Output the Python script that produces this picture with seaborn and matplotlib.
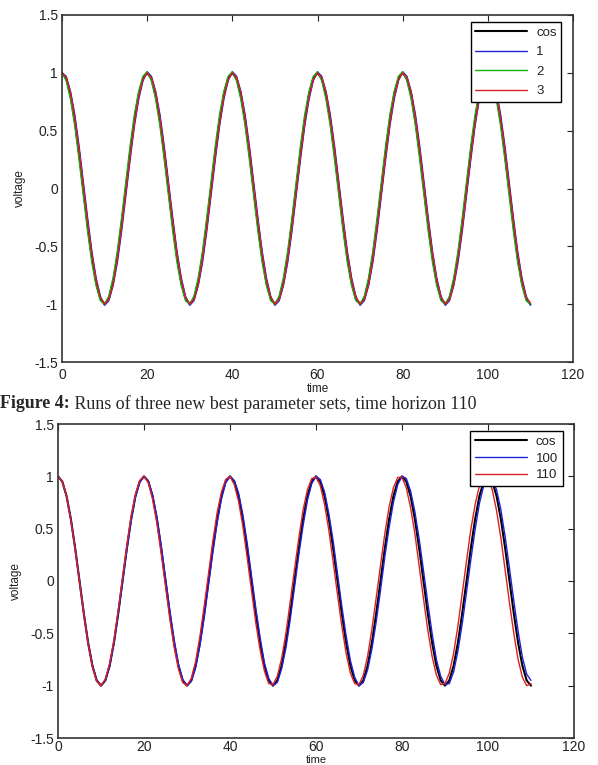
import numpy as np
import pandas as pd
import seaborn as sns
import matplotlib
matplotlib.use("Agg")
import matplotlib.pyplot as plt

# ---------------- data ----------------
time = list(range(0, 111))

# top panel: cos reference and three best parameter sets
top_cos = [
    1.00, 0.95, 0.81, 0.59, 0.31, 0.00, -0.31, -0.59, -0.81, -0.95, -1.00, -0.95, -0.81, -0.59, -0.31, 0.00, 0.31, 0.59, 0.81, 0.95,
    1.00, 0.95, 0.81, 0.59, 0.31, 0.00, -0.31, -0.59, -0.81, -0.95, -1.00, -0.95, -0.81, -0.59, -0.31, 0.00, 0.31, 0.59, 0.81, 0.95,
    1.00, 0.95, 0.81, 0.59, 0.31, 0.00, -0.31, -0.59, -0.81, -0.95, -1.00, -0.95, -0.81, -0.59, -0.31, 0.00, 0.31, 0.59, 0.81, 0.95,
    1.00, 0.95, 0.81, 0.59, 0.31, 0.00, -0.31, -0.59, -0.81, -0.95, -1.00, -0.95, -0.81, -0.59, -0.31, 0.00, 0.31, 0.59, 0.81, 0.95,
    1.00, 0.95, 0.81, 0.59, 0.31, 0.00, -0.31, -0.59, -0.81, -0.95, -1.00, -0.95, -0.81, -0.59, -0.31, 0.00, 0.31, 0.59, 0.81, 0.95,
    1.00, 0.95, 0.81, 0.59, 0.31, 0.00, -0.31, -0.59, -0.81, -0.95, -1.00,
]
top_run1 = [
    1.00, 0.97, 0.84, 0.64, 0.37, 0.06, -0.25, -0.54, -0.77, -0.93, -1.01, -0.97, -0.84, -0.64, -0.37, -0.06, 0.25, 0.54, 0.77, 0.93,
    1.01, 0.97, 0.84, 0.64, 0.37, 0.06, -0.25, -0.54, -0.77, -0.93, -1.01, -0.97, -0.84, -0.64, -0.37, -0.06, 0.25, 0.54, 0.77, 0.93,
    1.01, 0.97, 0.84, 0.64, 0.37, 0.06, -0.25, -0.54, -0.77, -0.93, -1.01, -0.97, -0.84, -0.64, -0.37, -0.06, 0.25, 0.54, 0.77, 0.93,
    1.01, 0.97, 0.84, 0.64, 0.37, 0.06, -0.25, -0.54, -0.77, -0.93, -1.01, -0.97, -0.84, -0.64, -0.37, -0.06, 0.25, 0.54, 0.77, 0.93,
    1.01, 0.97, 0.84, 0.64, 0.37, 0.06, -0.25, -0.54, -0.77, -0.93, -1.01, -0.97, -0.84, -0.64, -0.37, -0.06, 0.25, 0.54, 0.77, 0.93,
    1.01, 0.97, 0.84, 0.64, 0.37, 0.06, -0.25, -0.54, -0.77, -0.93, -1.01,
]
top_run2 = [
    1.00, 0.93, 0.77, 0.54, 0.25, -0.06, -0.37, -0.64, -0.84, -0.97, -1.00, -0.93, -0.77, -0.54, -0.25, 0.06, 0.37, 0.64, 0.84, 0.97,
    1.01, 0.93, 0.77, 0.54, 0.25, -0.06, -0.37, -0.64, -0.84, -0.97, -1.00, -0.93, -0.77, -0.54, -0.25, 0.06, 0.37, 0.64, 0.84, 0.97,
    1.01, 0.93, 0.77, 0.54, 0.25, -0.06, -0.37, -0.64, -0.84, -0.97, -1.00, -0.93, -0.77, -0.54, -0.25, 0.06, 0.37, 0.64, 0.84, 0.97,
    1.01, 0.93, 0.77, 0.54, 0.25, -0.06, -0.37, -0.64, -0.84, -0.97, -1.00, -0.93, -0.77, -0.54, -0.25, 0.06, 0.37, 0.64, 0.84, 0.97,
    1.01, 0.93, 0.77, 0.54, 0.25, -0.06, -0.37, -0.64, -0.84, -0.97, -1.00, -0.93, -0.77, -0.54, -0.25, 0.06, 0.37, 0.64, 0.84, 0.97,
    1.01, 0.93, 0.77, 0.54, 0.25, -0.06, -0.37, -0.64, -0.84, -0.97, -1.00,
]
top_run3 = [
    1.00, 0.96, 0.83, 0.61, 0.34, 0.03, -0.28, -0.56, -0.79, -0.94, -1.00, -0.96, -0.83, -0.61, -0.34, -0.03, 0.28, 0.56, 0.79, 0.94,
    1.00, 0.96, 0.83, 0.61, 0.34, 0.03, -0.28, -0.56, -0.79, -0.94, -1.00, -0.96, -0.83, -0.61, -0.34, -0.03, 0.28, 0.56, 0.79, 0.94,
    1.00, 0.96, 0.83, 0.61, 0.34, 0.03, -0.28, -0.56, -0.79, -0.94, -1.00, -0.96, -0.83, -0.61, -0.34, -0.03, 0.28, 0.56, 0.79, 0.94,
    1.00, 0.96, 0.83, 0.61, 0.34, 0.03, -0.28, -0.56, -0.79, -0.94, -1.00, -0.96, -0.83, -0.61, -0.34, -0.03, 0.28, 0.56, 0.79, 0.94,
    1.00, 0.96, 0.83, 0.61, 0.34, 0.03, -0.28, -0.56, -0.79, -0.94, -1.00, -0.96, -0.83, -0.61, -0.34, -0.03, 0.28, 0.56, 0.79, 0.94,
    1.00, 0.96, 0.83, 0.61, 0.34, 0.03, -0.28, -0.56, -0.79, -0.94, -0.99,
]
top_labels = ["cos", "1", "2", "3"]

# bottom panel: cos reference and runs with horizons 100 and 110
bottom_cos = top_cos
bottom_run100 = [
    1.00, 0.95, 0.81, 0.59, 0.31, 0.01, -0.30, -0.58, -0.80, -0.95, -1.00, -0.95, -0.82, -0.60, -0.32, -0.02, 0.29, 0.57, 0.80, 0.94,
    1.00, 0.96, 0.82, 0.61, 0.34, 0.03, -0.28, -0.56, -0.79, -0.94, -1.00, -0.96, -0.83, -0.62, -0.35, -0.04, 0.27, 0.55, 0.78, 0.94,
    1.00, 0.96, 0.84, 0.63, 0.36, 0.05, -0.26, -0.54, -0.78, -0.93, -1.00, -0.97, -0.84, -0.64, -0.37, -0.06, 0.25, 0.53, 0.77, 0.93,
    1.00, 0.97, 0.85, 0.64, 0.38, 0.07, -0.24, -0.52, -0.76, -0.92, -1.00, -0.97, -0.85, -0.65, -0.39, -0.09, 0.23, 0.51, 0.75, 0.92,
    1.00, 0.98, 0.86, 0.66, 0.40, 0.10, -0.21, -0.50, -0.75, -0.91, -0.99, -0.98, -0.87, -0.67, -0.41, -0.11, 0.20, 0.49, 0.74, 0.91,
    0.99, 0.98, 0.87, 0.68, 0.42, 0.12, -0.19, -0.48, -0.73, -0.89, -0.95,
]
bottom_run110 = [
    1.00, 0.95, 0.81, 0.58, 0.30, -0.01, -0.32, -0.60, -0.82, -0.96, -1.00, -0.94, -0.79, -0.57, -0.28, 0.03, 0.34, 0.62, 0.83, 0.96,
    1.00, 0.94, 0.78, 0.55, 0.26, -0.05, -0.36, -0.63, -0.84, -0.97, -1.00, -0.93, -0.77, -0.53, -0.24, 0.07, 0.38, 0.65, 0.85, 0.97,
    1.00, 0.92, 0.76, 0.52, 0.22, -0.09, -0.40, -0.66, -0.86, -0.98, -0.99, -0.91, -0.74, -0.50, -0.20, 0.11, 0.41, 0.68, 0.87, 0.98,
    0.99, 0.91, 0.73, 0.48, 0.18, -0.13, -0.43, -0.69, -0.88, -0.98, -0.99, -0.90, -0.72, -0.46, -0.16, 0.15, 0.45, 0.71, 0.89, 0.99,
    0.99, 0.89, 0.70, 0.45, 0.14, -0.17, -0.47, -0.72, -0.90, -0.99, -0.98, -0.88, -0.69, -0.43, -0.12, 0.19, 0.49, 0.73, 0.91, 0.99,
    0.98, 0.87, 0.67, 0.41, 0.10, -0.21, -0.50, -0.75, -0.92, -1.00, -0.98,
]
bottom_labels = ["cos", "100", "110"]

x_ticks = [0, 20, 40, 60, 80, 100, 120]
y_ticks = [-1.5, -1.0, -0.5, 0.0, 0.5, 1.0, 1.5]
y_tick_labels = ["-1.5", "-1", "-0.5", "0", "0.5", "1", "1.5"]
x_tick_labels = ["0", "20", "40", "60", "80", "100", "120"]
caption_bold = "Figure 4:"
caption_rest = " Runs of three new best parameter sets, time horizon 110"

# ---------------- style ----------------
sns.set_style("white")
plt.rcParams["font.family"] = ["Liberation Sans", "DejaVu Sans"]

W, H = 598, 765
fig = plt.figure(figsize=(W / 100, H / 100), dpi=100)
fig.patch.set_facecolor("white")


def px_axes(left, top, right, bottom):
    return fig.add_axes([left / W, 1 - bottom / H, (right - left) / W, (bottom - top) / H])


ax1 = px_axes(62, 15, 573, 362)
ax2 = px_axes(58, 424, 574, 738)

line_styles = {
    "cos": dict(color="black", linewidth=1.5),
    "1": dict(color="#2020e0", linewidth=1.0),
    "2": dict(color="#10b010", linewidth=1.0),
    "3": dict(color="#e02020", linewidth=1.0),
    "100": dict(color="#2020e0", linewidth=1.0),
    "110": dict(color="#e02020", linewidth=1.0),
}

top_series = [top_cos, top_run1, top_run2, top_run3]
bottom_series = [bottom_cos, bottom_run100, bottom_run110]


def draw_panel(ax, series, labels, label_spacing, legend_anchor, xlabelpad, xpad, xlabelsize):
    for vals, lab in zip(series, labels):
        df = pd.DataFrame({"time": time, "voltage": vals})
        sns.lineplot(data=df, x="time", y="voltage", ax=ax, label=lab,
                     estimator=None, sort=False, **line_styles[lab])
    ax.set_xlim(0, 120)
    ax.set_ylim(-1.5, 1.5)
    ax.set_xticks(x_ticks)
    ax.set_xticklabels(x_tick_labels)
    ax.set_yticks(y_ticks)
    ax.set_yticklabels(y_tick_labels)
    ax.tick_params(axis="both", direction="in", length=4, width=0.8,
                   top=True, right=True, labelsize=10, colors="#222222", pad=3)
    ax.tick_params(axis="x", pad=xpad)
    for sp in ax.spines.values():
        sp.set_visible(True)
        sp.set_color("#333333")
        sp.set_linewidth(1.2)
    ax.set_xlabel("time", fontsize=xlabelsize, color="#222222", labelpad=xlabelpad)
    ax.set_ylabel("voltage", fontsize=8.5, color="#222222", labelpad=6)
    leg = ax.legend(loc="upper right", bbox_to_anchor=legend_anchor, borderaxespad=0,
                    frameon=True, fancybox=False, framealpha=1, edgecolor="black",
                    fontsize=9.5, handlelength=3.9, handletextpad=0.7,
                    labelspacing=label_spacing, borderpad=0.35)
    leg.get_frame().set_linewidth(1.0)
    for t in leg.get_texts():
        t.set_color("#222222")


draw_panel(ax1, top_series, top_labels, 0.55, (0.977, 0.98), 1, 4, 8.5)
draw_panel(ax2, bottom_series, bottom_labels, 0.35, (0.978, 0.978), 0.5, 1.5, 8)

# caption
cap_y = 1 - 404 / H
t1 = fig.text(0.0, cap_y, caption_bold, fontsize=12.9, fontweight="bold",
              family="Liberation Serif", va="center", ha="left")
fig.canvas.draw()
bb = t1.get_window_extent(renderer=fig.canvas.get_renderer())
fig.text(bb.x1 / W, cap_y, caption_rest, fontsize=12.9,
         family="Liberation Serif", va="center", ha="left")

fig.savefig("out.png", dpi=100, facecolor="white")
